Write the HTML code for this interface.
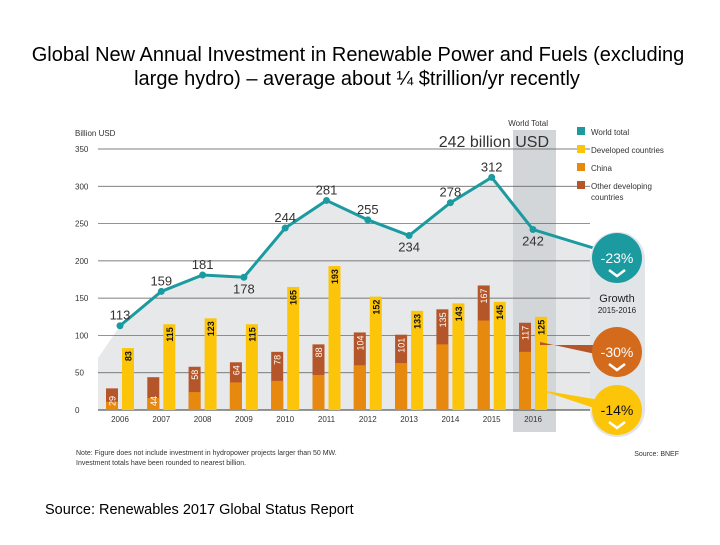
<!DOCTYPE html>
<html><head><meta charset="utf-8"><style>
body{margin:0;background:#fff;width:720px;height:540px;overflow:hidden;font-family:"Liberation Sans",sans-serif}
</style></head><body>
<svg width="720" height="540" xmlns="http://www.w3.org/2000/svg">
<text x="358" y="61" font-size="20" text-anchor="middle">Global New Annual Investment in Renewable Power and Fuels (excluding</text>
<text x="357" y="85" font-size="20" text-anchor="middle">large hydro) – average about ¼ $trillion/yr recently</text>
<text x="45" y="514" font-size="14.5">Source: Renewables 2017 Global Status Report</text>
<g id="plot"></g>
</svg>
<script>
const years=["2006","2007","2008","2009","2010","2011","2012","2013","2014","2015","2016"];
const world=[113,159,181,178,244,281,255,234,278,312,242];
const developed=[83,115,123,115,165,193,152,133,143,145,125];
const developing=[29,44,58,64,78,88,104,101,135,167,117];
const china=[11,16,24,37,39,47,60,63,88,120,78];
const yTicks=[0,50,100,150,200,250,300,350];
const NS="http://www.w3.org/2000/svg";
const g=document.getElementById('plot');
const y0=410,k=261/350;
const Y=v=>y0-v*k;
const X=i=>120+i*41.3;
function el(t,a,p){const e=document.createElementNS(NS,t);for(const n in a)e.setAttribute(n,a[n]);(p||g).appendChild(e);return e;}
function tx(x,y,s,size,fill,extra){const e=el('text',Object.assign({x:x,y:y,'font-size':size,fill:fill},extra||{}));e.textContent=s;return e;}
let pts="98,410 98,358 ";world.forEach((v,i)=>pts+=X(i)+","+Y(v)+" ");pts+="590,"+Y(220)+" 590,410";
const area=el('polygon',{points:pts,fill:'#e6e8ea'});


const hl=el('rect',{x:513,y:130,width:43,height:302,fill:'#d3d6d9'});


yTicks.forEach(v=>{
 const l=el('line',{x1:98,x2:590,y1:Y(v),y2:Y(v),stroke:v==0?'#333':'#555','stroke-width':v==0?1:0.7});
 
 
 const t=tx(75,Y(v)+3,String(v),8,'#333');
 
 
});
const yt=tx(75,136,'Billion USD',8,'#333');


years.forEach((yr,i)=>{
 const c=X(i);
 const b1=el('rect',{x:c-14,y:Y(developing[i]),width:12,height:developing[i]*k,fill:'#b5562a'});
 
 
 const b2=el('rect',{x:c-14,y:Y(china[i]),width:12,height:china[i]*k,fill:'#e8890f'});
 
 
 const b3=el('rect',{x:c+2,y:Y(developed[i]),width:12,height:developed[i]*k,fill:'#fcc50a'});
 
 
 const l1=tx(0,0,String(developing[i]),9,'#fff',{transform:`translate(${c-4.5},${Y(developing[i])+3}) rotate(-90)`,'text-anchor':'end'});
 if(developing[i]<50){l1.setAttribute('transform',`translate(${c-4.5},406) rotate(-90)`);l1.setAttribute('text-anchor','start');}
 
 
 const l2=tx(0,0,String(developed[i]),9,'#111',{transform:`translate(${c+11.5},${Y(developed[i])+3}) rotate(-90)`,'text-anchor':'end','font-weight':'bold'});
 
 
 const xl=tx(c,422,yr,8,'#333',{'text-anchor':'middle'});
 
 
});
let lp="";world.forEach((v,i)=>lp+=X(i)+","+Y(v)+" ");lp+="600,250";
const line=el('polyline',{points:lp,fill:'none',stroke:'#1b9aa0','stroke-width':3});


world.forEach((v,i)=>{
 const d=el('circle',{cx:X(i),cy:Y(v),r:3.5,fill:'#1b9aa0'});
 
 
 const below=(i==3||i==7||i==10);
 const t=tx(X(i),below?Y(v)+16:Y(v)-6,String(v),13,'#333',{'text-anchor':'middle'});
 
 
});
const wt=tx(548,126,'World Total',8,'#333',{'text-anchor':'end'});


const wv=tx(549,147,'242 billion USD',16,'#333',{'text-anchor':'end'});


const pill=el('rect',{x:590,y:232,width:55,height:205,rx:27,fill:'#e2e5e8'});


el('polygon',{points:'540,345 600,345 600,355 540,342',fill:'#b5562a'});
el('polygon',{points:'540,390 600,400 600,410',fill:'#fcc50a'});
const circ=[[258,'#1b9aa0','-23%','#fff'],[352,'#d46a1c','-30%','#fff'],[410,'#fcc50a','-14%','#111']];
circ.forEach((c,i)=>{
 const cc=el('circle',{cx:617,cy:c[0],r:25,fill:c[1]});
 
 
 el('polyline',{points:`609,${c[0]+12} 617,${c[0]+18} 625,${c[0]+12}`,fill:'none',stroke:'#fff','stroke-width':2.5});
 const t=tx(617,c[0]+5,c[2],14,c[3],{'text-anchor':'middle'});
 
 
});
tx(617,302,'Growth',11,'#222',{'text-anchor':'middle'});
tx(617,313,'2015-2016',8,'#222',{'text-anchor':'middle'});
const leg=[['#1b9aa0','World total',135],['#fcc50a','Developed countries',153],['#e8890f','China',171],['#b5562a','Other developing',189]];
leg.forEach((l,i)=>{
 const r=el('rect',{x:577,y:l[2]-8,width:8,height:8,fill:l[0]});
 
 
 const t=tx(591,l[2],l[1],8,'#333');
 
 
});
tx(591,200,'countries',8,'#333');
tx(76,455,'Note: Figure does not include investment in hydropower projects larger than 50 MW.',7,'#333');
tx(76,465,'Investment totals have been rounded to nearest billion.',7,'#333');
tx(679,456,'Source: BNEF',7,'#333',{'text-anchor':'end'});
</script>
</body></html>
